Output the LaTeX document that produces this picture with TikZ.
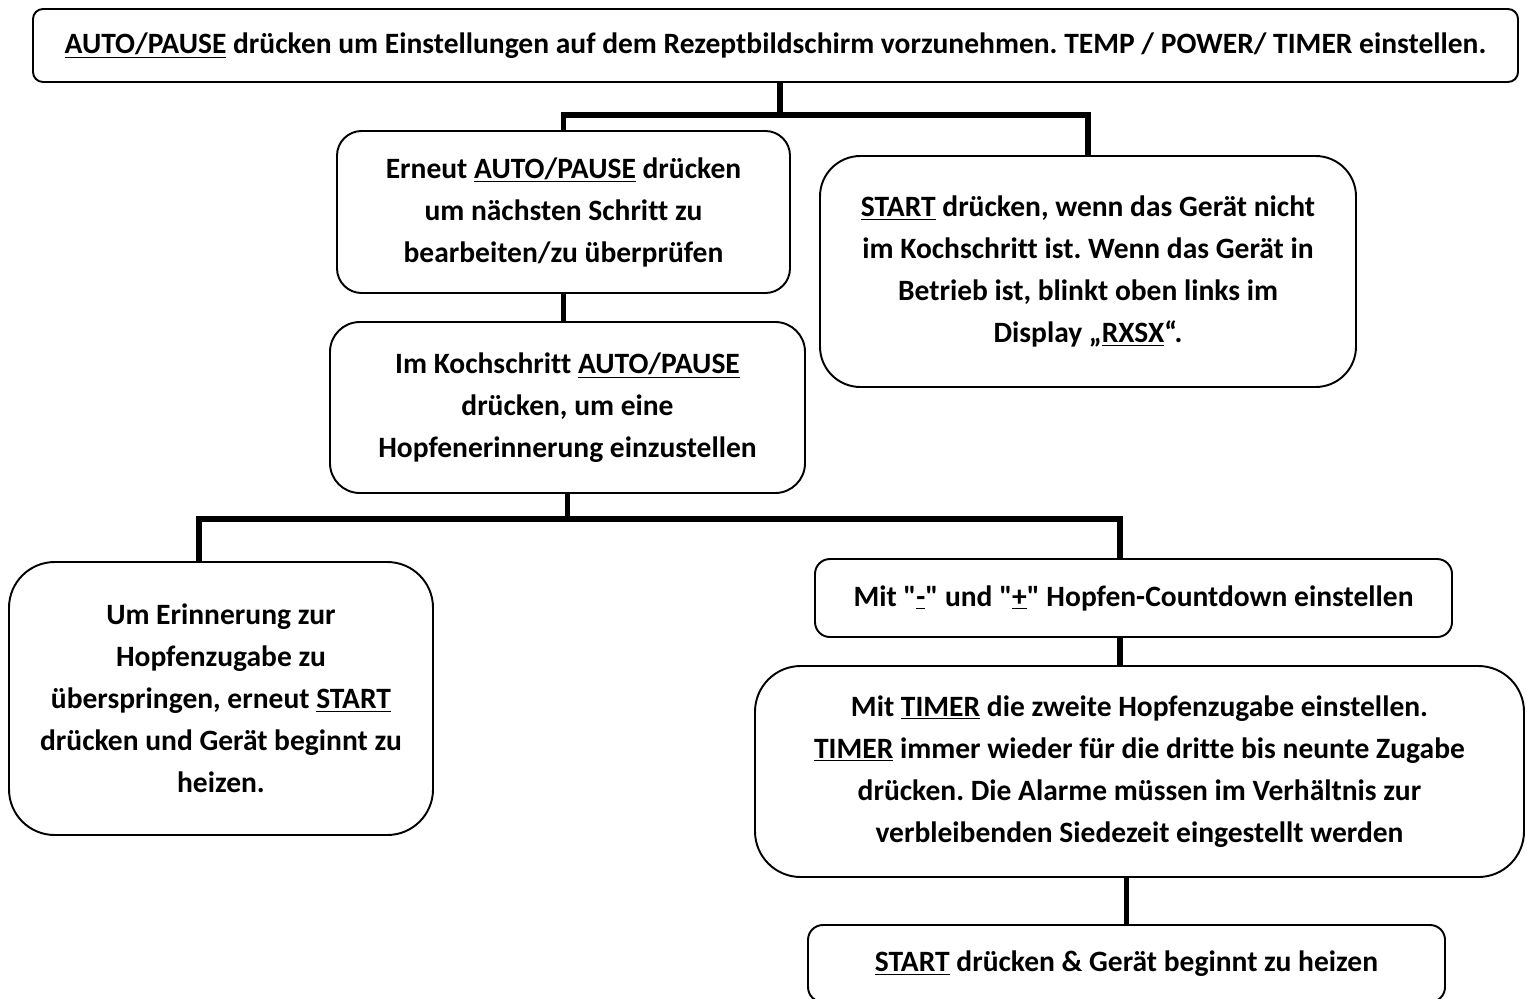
\documentclass[tikz,border=0pt]{standalone}
\usepackage{fontspec}
\setmainfont{Carlito}[Ligatures={TeX,NoCommon}]
\usepackage{tikz}
\usetikzlibrary{calc}
\frenchspacing

\begin{document}
\begin{tikzpicture}[x=0.02cm,y=-0.02cm,
  box/.style={draw,line width=1.1pt,align=center,inner sep=0pt,
    font=\fontsize{16.8}{23.9}\selectfont\bfseries},
  link/.style={line width=2.9pt,line join=miter}]
\useasboundingbox (0,0) rectangle (1527,998);

\node[box,rounded corners=5.7pt,minimum width=1485*0.02cm,minimum height=73*0.02cm] (top) at (775.5,45.5)
  {\underline{AUTO/PAUSE} drücken um Einstellungen auf dem Rezeptbildschirm vorzunehmen. TEMP / POWER/ TIMER einstellen.};
\node[box,rounded corners=14pt,minimum width=453*0.02cm,minimum height=162*0.02cm] (erneut) at (563.5,212)
  {Erneut \underline{AUTO/PAUSE} drücken\\um nächsten Schritt zu\\bearbeiten/zu überprüfen};
\node[box,rounded corners=23pt,minimum width=536*0.02cm,minimum height=231*0.02cm] (start) at (1088,271.5)
  {\underline{START} drücken, wenn das Gerät nicht\\im Kochschritt ist. Wenn das Gerät in\\Betrieb ist, blinkt oben links im\\Display „\underline{RXSX}“.};
\node[box,rounded corners=17pt,minimum width=475*0.02cm,minimum height=171*0.02cm] (koch) at (567.5,407.5)
  {Im Kochschritt \underline{AUTO/PAUSE}\\drücken, um eine\\Hopfenerinnerung einzustellen};
\node[box,rounded corners=26pt,minimum width=424*0.02cm,minimum height=273*0.02cm] (skip) at (221,698.5)
  {Um Erinnerung zur\\Hopfenzugabe zu\\überspringen, erneut \underline{START}\\drücken und Gerät beginnt zu\\heizen.};
\node[box,rounded corners=8.5pt,minimum width=637*0.02cm,minimum height=78*0.02cm] (count) at (1133.5,598)
  {Mit \textquotedbl\underline{-}\textquotedbl{} und \textquotedbl\underline{+}\textquotedbl{} Hopfen-Countdown einstellen};
\node[box,rounded corners=26pt,minimum width=769*0.02cm,minimum height=211*0.02cm] (timer) at (1139.5,771.5)
  {Mit \underline{TIMER} die zweite Hopfenzugabe einstellen.\\\underline{TIMER} immer wieder für die dritte bis neunte Zugabe\\drücken. Die Alarme müssen im Verhältnis zur\\verbleibenden Siedezeit eingestellt werden};
\node[box,rounded corners=8.5pt,minimum width=637*0.02cm,minimum height=77*0.02cm] (heat) at (1126.5,963.5)
  {\underline{START} drücken \& Gerät beginnt zu heizen};

\coordinate (bar1) at (780,115);
\coordinate (bar2l) at (199,519);
\coordinate (bar2r) at (1120,519);

\draw[link] (top.south -| bar1) -- (bar1);
\draw[link] (erneut.north) |- (bar1) -| (start.north);
\draw[link] (erneut.south) -- (erneut.south |- koch.north);
\draw[link] (koch.south) -- (koch.south |- bar2l);
\draw[link] (skip.north -| bar2l) |- (bar2r) -- (count.north -| bar2r);
\draw[link] (count.south -| bar2r) -- (timer.north -| bar2r);
\draw[link] (timer.south -| heat.north) -- (heat.north);
\end{tikzpicture}
\end{document}
